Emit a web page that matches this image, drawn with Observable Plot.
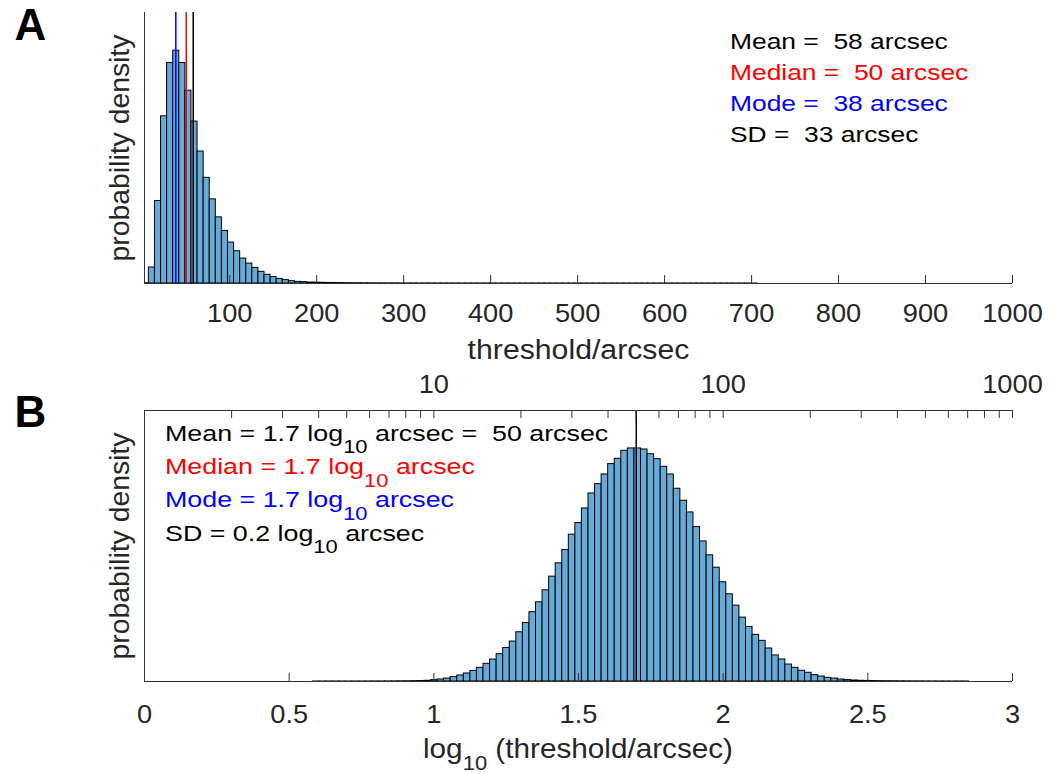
<!DOCTYPE html>
<html>
<head>
<meta charset="utf-8">
<script src="https://cdn.jsdelivr.net/npm/d3@7"></script>
<script src="https://cdn.jsdelivr.net/npm/@observablehq/plot@0.6"></script>
<style>
  body { margin: 0; background: #fff; }
  #chart svg { display: block; }
  svg text { white-space: pre; }
</style>
</head>
<body>
<div id="chart"></div>
<script>
// ---------------- Panel A : threshold in arcsec ----------------
const binWidthA = 7;            // bins [0,7), [7,14), ...
const densityA = [
  0.00002, 0.00118, 0.00609, 0.01234, 0.01627, 0.01718, 0.01627, 0.01423, 0.01195, 0.00974,
  0.0078, 0.00621, 0.00488, 0.00388, 0.00302, 0.00238, 0.00184, 0.00147, 0.00115, 0.00086,
  0.00064, 0.00047, 0.00034, 0.00025, 0.00017, 0.00012, 0.0001, 0.00007, 0.00006, 0.00005,
  0.00004, 0.000035, 0.00003, 0.000025, 0.00002, 0.000018, 0.000015, 0.000013, 0.000011, 0.00001,
  0.000009, 0.000008, 0.000007, 0.000006, 0.000006, 0.000005, 0.000005, 0.000004, 0.000004, 0.000003,
  0.000003, 0.000003, 0.000002, 0.000002, 0.000002, 0.000002, 0.000002, 0.000001, 0.000001, 0.000001,
  0.000001, 0.000001, 0.000001, 0.000001, 0.000001, 0.000001, 0.000001, 0.0000005, 0.0000005, 0.0000005,
  0.0000005, 0.0000005, 0.0000005, 0.0000005, 0.0000005, 0.0000005, 0.0000005, 0.0000005, 0.0000005, 0.0000005,
  0.0000005, 0.0000005, 0.0000005, 0.0000005, 0.0000005, 0.0000005, 0.0000005, 0.0000005, 0.0000005, 0.0000005,
  0.0000005, 0.0000005, 0.0000005, 0.0000005, 0.0000005, 0.0000005, 0.0000005, 0.0000005, 0.0000005, 0.0000005,
  0.0000005
];
const statNamesA  = ["Mean", "Median", "Mode", "SD"];
const statValuesA = [58, 50, 38, 33];
const statColorsA = ["#000000", "#ff0000", "#0000ff", "#000000"];
const ticksA = [100, 200, 300, 400, 500, 600, 700, 800, 900, 1000];
const xDomainA = [2, 1000];
const yDomainA = [0, 0.02];

// ---------------- Panel B : log10 threshold ----------------
const binStartB = 0.582;
const binWidthB = 0.02268;
const densityB = [
  0.00003, 0.00003, 0.00005, 0.00005, 0.0001, 0.0001, 0.00015, 0.0002, 0.0003, 0.0004,
  0.0006, 0.0008, 0.001, 0.0015, 0.002, 0.003, 0.004, 0.006, 0.011, 0.017,
  0.025, 0.037, 0.051, 0.068, 0.090, 0.116, 0.150, 0.186, 0.232, 0.285,
  0.339, 0.418, 0.497, 0.588, 0.672, 0.774, 0.890, 1.003, 1.116, 1.246,
  1.345, 1.469, 1.596, 1.675, 1.757, 1.845, 1.890, 1.958, 1.978, 1.978,
  1.969, 1.929, 1.887, 1.822, 1.757, 1.636, 1.534, 1.435, 1.311, 1.189,
  1.071, 0.966, 0.842, 0.740, 0.644, 0.542, 0.463, 0.396, 0.345, 0.280,
  0.221, 0.187, 0.144, 0.116, 0.091, 0.074, 0.054, 0.042, 0.031, 0.025,
  0.017, 0.012, 0.0085, 0.006, 0.005, 0.004, 0.003, 0.0025, 0.002, 0.0015,
  0.0012, 0.001, 0.0008, 0.0006, 0.0005, 0.0004, 0.0003, 0.0002, 0.0002, 0.0001
];
const statNamesB  = ["Mean", "Median", "Mode", "SD"];
const statValuesB = [1.7, 1.7, 1.7, 0.2];
const statColorsB = ["#000000", "#ff0000", "#0000ff", "#000000"];
const meanArcsecB = 50;
const ticksB = [0, 0.5, 1, 1.5, 2, 2.5, 3];
const topMajorB = [10, 100, 1000];
const topMinorB = [2, 3, 4, 5, 6, 7, 8, 9, 10, 20, 30, 40, 50, 60, 70, 80, 90, 100,
                   200, 300, 400, 500, 600, 700, 800, 900, 1000];
const xDomainB = [0, 3];
const yDomainB = [0, 2.3];

// ---------------- styling ----------------
const FONT = "'Liberation Sans', Arial, Helvetica, sans-serif";
const BAR_FILL = "#66aad7";
const AXIS = "#333333";
const W = 1057;

const binsA = densityA.map((d, i) => ({x1: i * binWidthA, x2: (i + 1) * binWidthA, y: d}));
const binsB = densityB.map((d, i) => ({x1: binStartB + i * binWidthB, x2: binStartB + (i + 1) * binWidthB, y: d}));
const linesA = statNamesA.slice(0, 3).map((n, i) => ({x: statValuesA[i], c: statColorsA[i]}));
const linesB = statNamesB.slice(0, 3).map((n, i) => ({x: statValuesB[i], c: statColorsB[i]})).reverse();

const frameH = 271;
const annBaseA = [48.5, 79.5, 110.5, 141.5];

const plotA = Plot.plot({
  width: W, height: 370,
  marginLeft: 144, marginRight: 45, marginTop: 12, marginBottom: 87,
  x: {domain: xDomainA, axis: null},
  y: {domain: yDomainA, axis: null},
  color: {type: "identity"},
  style: {fontFamily: FONT, fontSize: "25px", color: "#262626", background: "#fff", overflow: "visible"},
  marks: [
    Plot.rectY(binsA, {x1: "x1", x2: "x2", y: "y", fill: BAR_FILL, stroke: "#000", strokeWidth: 1, clip: true}),
    Plot.ruleX(linesA, {x: "x", stroke: "c", strokeWidth: 1.5}),
    Plot.ruleY([0], {stroke: AXIS}),
    Plot.ruleX([xDomainA[0]], {stroke: AXIS}),
    Plot.tickX(ticksA, {x: d => d, insetTop: frameH - 8, stroke: AXIS}),
    Plot.axisX(ticksA, {tickSize: 0, tickPadding: 21, label: null, tickFormat: d => String(d), fontSize: 25, fill: "#262626", ariaDescription: "ticklab"}),
    Plot.text(["threshold/arcsec"], {frameAnchor: "bottom", dy: 67, lineAnchor: "middle", fontSize: 27, fill: "#262626", ariaDescription: "xlab"}),
    Plot.text(["probability density"], {frameAnchor: "left", dx: -24, rotate: -90, lineAnchor: "middle", textAnchor: "middle", fontSize: 27, fill: "#262626", ariaDescription: "ylab"}),
    Plot.text(["A"], {frameAnchor: "top-left", dx: -130, dy: -4, lineAnchor: "top", textAnchor: "start", fontSize: 44, fontWeight: "bold", fill: "#000"}),
    ...statNamesA.map((n, i) => Plot.text([`${n} =  ${statValuesA[i]} arcsec`], {
      frameAnchor: "top-left", dx: 729.5 - 144, dy: annBaseA[i] - 12, lineAnchor: "bottom",
      textAnchor: "start", fontSize: 22, fill: statColorsA[i], ariaDescription: "annot"
    }))
  ]
});

const plotB = Plot.plot({
  width: W, height: 404,
  marginLeft: 144, marginRight: 45, marginTop: 40, marginBottom: 93,
  x: {domain: xDomainB, axis: null},
  y: {domain: yDomainB, axis: null},
  color: {type: "identity"},
  style: {fontFamily: FONT, fontSize: "25px", color: "#262626", background: "#fff", overflow: "visible"},
  marks: [
    Plot.rectY(binsB, {x1: "x1", x2: "x2", y: "y", fill: BAR_FILL, stroke: "#000", strokeWidth: 1, clip: true}),
    Plot.ruleX(linesB, {x: "x", stroke: "c", strokeWidth: 1.2}),
    Plot.ruleY([0], {stroke: AXIS}),
    Plot.ruleY([yDomainB[1]], {stroke: AXIS}),
    Plot.ruleX([xDomainB[0]], {stroke: AXIS}),
    Plot.tickX(ticksB, {x: d => d, insetTop: frameH - 8, stroke: AXIS}),
    Plot.tickX(topMinorB, {x: d => Math.log10(d), insetBottom: frameH - 8, stroke: AXIS}),
    Plot.axisX(ticksB, {tickSize: 0, tickPadding: 24, label: null, tickFormat: d => String(d), fontSize: 25, fill: "#262626", ariaDescription: "ticklab"}),
    Plot.axisX(topMajorB.map(d => Math.log10(d)), {anchor: "top", tickSize: 0, tickPadding: 18, label: null, tickFormat: d => String(Math.round(10 ** d)), fontSize: 25, fill: "#262626", ariaDescription: "ticklab"}),
    Plot.text(["probability density"], {frameAnchor: "left", dx: -24, rotate: -90, lineAnchor: "middle", textAnchor: "middle", fontSize: 27, fill: "#262626", ariaDescription: "ylab"}),
    Plot.text(["B"], {frameAnchor: "top-left", dx: -130, dy: -15, lineAnchor: "top", textAnchor: "start", fontSize: 44, fontWeight: "bold", fill: "#000"})
  ]
});

// subscripted texts for panel B (annotations and x label)
function richText(svg, x, y, parts, opts) {
  const t = d3.select(svg).append("text")
    .attr("transform", `translate(${x},${y}) scale(${opts.sx},1)`)
    .attr("font-family", FONT)
    .attr("font-size", opts.size)
    .attr("fill", opts.color)
    .attr("text-anchor", opts.anchor || "start");
  let shifted = false;
  parts.forEach(([s, sub]) => {
    const ts = t.append("tspan").text(s);
    if (sub) { ts.attr("font-size", opts.subSize).attr("dy", opts.subDy); shifted = true; }
    else if (shifted) { ts.attr("dy", -opts.subDy); shifted = false; }
  });
  return t;
}

const annBaseB = [70.7, 104, 137.3, 170.7];
statNamesB.forEach((n, i) => {
  const v = statValuesB[i].toFixed(1);
  const parts = [[`${n} = ${v} log`], ["10", true], [" arcsec"]];
  if (i === 0) parts[2] = [` arcsec =  ${meanArcsecB} arcsec`];
  richText(plotB, 165, annBaseB[i], parts, {sx: 1.22, size: 22, subSize: 18, subDy: 12.5, color: statColorsB[i]});
});
richText(plotB, 578, 387.5, [["log"], ["10", true], [" (threshold/arcsec)"]],
  {sx: 1.1, size: 27, subSize: 20, subDy: 12, color: "#262626", anchor: "middle"});

// horizontal widening of text to match the reference's lettering
function stretch(svg, desc, s) {
  d3.select(svg).selectAll(`g[aria-description="${desc}"] text`).each(function () {
    const tr = this.getAttribute("transform") || "";
    this.setAttribute("transform", `${tr} scale(${s},1)`);
  });
}
[plotA, plotB].forEach(p => {
  stretch(p, "annot", 1.2);
  stretch(p, "xlab", 1.12);
  stretch(p, "ylab", 1.05);
  stretch(p, "ticklab", 1.09);
});

const chart = document.getElementById("chart");
chart.appendChild(plotA);
chart.appendChild(plotB);
</script>
</body>
</html>
